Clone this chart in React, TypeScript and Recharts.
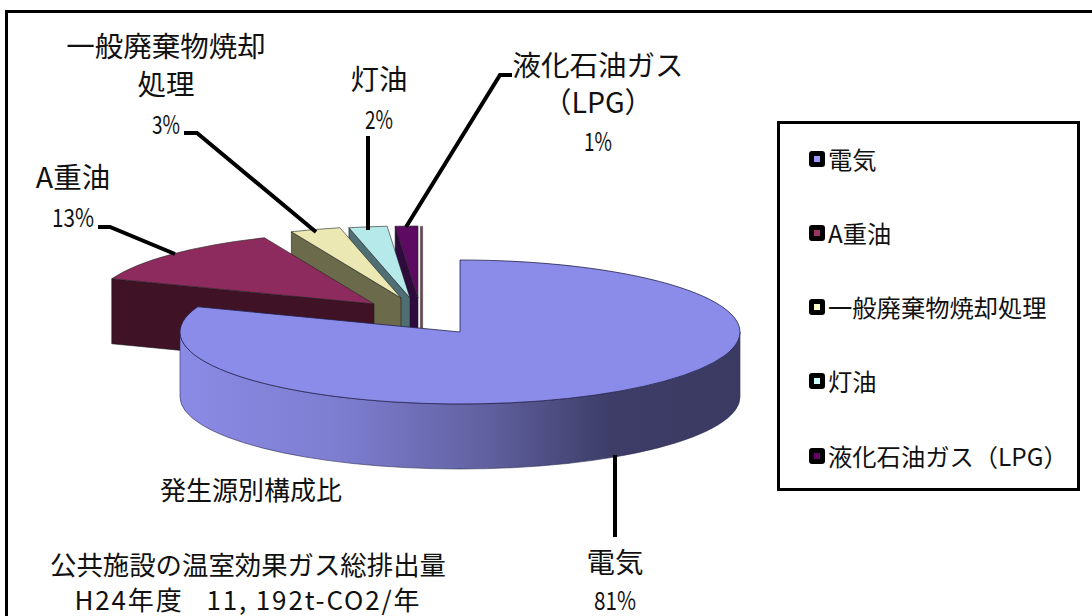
import { Legend, Pie, PieChart } from 'recharts'

const CATEGORIES = ['電気', 'A重油', '一般廃棄物焼却処理', '灯油', '液化石油ガス（LPG）']
const VALUES = [80.7, 12.9, 2.9, 2.2, 1.3]
const TOP_COLORS = ['#8B8BE9', '#8E2B5E', '#EBE8B4', '#B6EAEA', '#5C0A62']
const WALL_COLORS = ['#8B8BE9', '#3F1226', '#6B6B4B', '#4F6F75', '#2E0A3D']
const LEGEND_COLORS = ['#9999FF', '#993366', '#FFFFCC', '#CCFFFF', '#660066']

// how far each slice is pulled away from the pie centre (px)
const EXPLODE: Record<string, [number, number]> = {
  電気: [0, 0],
  A重油: [-86, -28],
  一般廃棄物焼却処理: [-59, -34],
  灯油: [-50, -34],
  '液化石油ガス（LPG）': [-42, -34],
}

const CX = 460
const CY = 332
const RADIUS = 280
const TILT = 72 / 280
const DEPTH = 65
const FONT = '"Noto Sans CJK JP", sans-serif'

// pie draws back to front, so the big slice has to come last
const pieData = CATEGORIES.map((name, i) => ({
  name,
  value: VALUES[i],
  fill: TOP_COLORS[i],
  wall: WALL_COLORS[i],
  legendColor: LEGEND_COLORS[i],
})).reverse()

const LABEL_LAYOUT: Record<
  string,
  { cx: number; lines: [string, number][]; pctY: number; leader: string }
> = {
  電気: {
    cx: 615,
    lines: [['電気', 573]],
    pctY: 610,
    leader: '615,455 615,537',
  },
  A重油: {
    cx: 73,
    lines: [['A重油', 188]],
    pctY: 227,
    leader: '98,227 110,227 175,254',
  },
  一般廃棄物焼却処理: {
    cx: 166,
    lines: [
      ['一般廃棄物焼却', 57],
      ['処理', 95],
    ],
    pctY: 134,
    leader: '184,133 197,133 316,232',
  },
  灯油: {
    cx: 379,
    lines: [['灯油', 90]],
    pctY: 129,
    leader: '368,136 368,230',
  },
  '液化石油ガス（LPG）': {
    cx: 598,
    lines: [
      ['液化石油ガス', 76],
      ['（LPG）', 113],
    ],
    pctY: 151,
    leader: '512,75 500,75 406,227',
  },
}

function renderLabel(props: any) {
  const layout = LABEL_LAYOUT[props.name]
  if (!layout) return null
  const pct = `${Math.round(props.percent * 100)}%`
  return (
    <g>
      <polyline points={layout.leader} fill="none" stroke="#000" strokeWidth={4} />
      {layout.lines.map(([line, y]) => (
        <text key={line} x={layout.cx} y={y} textAnchor="middle" fontSize={28.5} fontFamily={FONT} fill="#111">
          {line}
        </text>
      ))}
      <text
        x={layout.cx}
        y={layout.pctY}
        textAnchor="middle"
        fontSize={25}
        fontFamily={FONT}
        fill="#111"
        textLength={pct.length * 14}
        lengthAdjust="spacingAndGlyphs"
      >
        {pct}
      </text>
    </g>
  )
}

function Slice3D(props: any) {
  const { cx, cy, outerRadius, startAngle, endAngle, fill, name, wall } = props
  const [dx, dy] = EXPLODE[name]
  const rx = outerRadius
  const ry = outerRadius * TILT
  const ax = cx + dx
  const ay = cy + dy
  const pt = (deg: number) => {
    const r = (deg * Math.PI) / 180
    return [ax + rx * Math.cos(r), ay - ry * Math.sin(r)]
  }
  const [sx, sy] = pt(startAngle)
  const [ex, ey] = pt(endAngle)
  const large = endAngle - startAngle > 180 ? 1 : 0
  const top = `M${ax},${ay} L${sx},${sy} A${rx},${ry} 0 ${large} 0 ${ex},${ey} Z`

  if (name === CATEGORIES[0]) {
    const [lx, ly] = pt(180)
    const [rrx, rry] = pt(360)
    const front = `M${lx},${ly} A${rx},${ry} 0 0 0 ${rrx},${rry} L${rrx},${rry + DEPTH} A${rx},${ry} 0 0 1 ${lx},${ly + DEPTH} Z`
    return (
      <g>
        <defs>
          <linearGradient id="frontWall" gradientUnits="userSpaceOnUse" x1={lx} x2={rrx} y1={0} y2={0}>
            <stop offset="0" stopColor="#8B8BE6" />
            <stop offset="0.3" stopColor="#7C7CCF" />
            <stop offset="0.55" stopColor="#60609F" />
            <stop offset="0.77" stopColor="#3D3D68" />
            <stop offset="1" stopColor="#3A3A62" />
          </linearGradient>
        </defs>
        <path d={front} fill="url(#frontWall)" stroke="#2d2d55" strokeWidth={0.6} />
        <path d={top} fill={fill} stroke="#22224a" strokeWidth={0.8} />
      </g>
    )
  }

  const side = `M${ax},${ay} L${ex},${ey} L${ex},${ey + DEPTH} L${ax},${ay + DEPTH} Z`
  return (
    <g>
      {name === CATEGORIES[4] && (
        <rect x={sx + 2} y={sy} width={3} height={ay + DEPTH - sy} fill="#5d4a50" stroke="#cbbcc0" strokeWidth={0.5} />
      )}
      <path d={side} fill={wall} stroke="#1c1c1c" strokeWidth={0.6} />
      <path d={top} fill={fill} stroke="#222" strokeWidth={0.6} />
    </g>
  )
}

function LegendBox({ payload }: any) {
  const rows = [...(payload ?? [])].reverse()
  return (
    <div style={{ position: 'absolute', inset: 0 }}>
      {rows.map((entry: any, i: number) => (
        <div
          key={entry.value}
          style={{
            position: 'absolute',
            left: 29,
            top: 34.5 + i * 74.3 - 16,
            height: 32,
            display: 'flex',
            alignItems: 'center',
            whiteSpace: 'nowrap',
            fontFamily: FONT,
            fontSize: 24.3,
            lineHeight: '32px',
            color: '#111',
          }}
        >
          <span
            style={{
              boxSizing: 'border-box',
              width: 16,
              height: 16,
              marginRight: 3,
              background: entry.payload?.legendColor,
              border: '5px solid #000',
              borderRadius: 3,
            }}
          />
          {entry.value}
        </div>
      ))}
    </div>
  )
}

export default function App() {
  return (
    <div style={{ position: 'absolute', left: 0, top: 0, width: 1092, height: 616, overflow: 'hidden', background: '#fff' }}>
      <div style={{ position: 'absolute', left: 5, top: 10, width: 1087, height: 3, background: '#000' }} />
      <div style={{ position: 'absolute', left: 5, top: 10, width: 3, height: 606, background: '#000' }} />
      <PieChart width={1092} height={616} margin={{ top: 0, right: 0, bottom: 0, left: 0 }}>
        <Pie
          data={pieData}
          dataKey="value"
          nameKey="name"
          cx={CX}
          cy={CY}
          outerRadius={RADIUS}
          startAngle={90}
          endAngle={450}
          shape={Slice3D}
          inactiveShape={Slice3D}
          label={renderLabel}
          labelLine={false}
          isAnimationActive={false}
        />
        <Legend
          layout="vertical"
          align="center"
          verticalAlign="middle"
          itemSorter={null}
          content={<LegendBox />}
          wrapperStyle={{
            left: 777,
            top: 121,
            width: 303,
            height: 370,
            boxSizing: 'border-box',
            border: '3px solid #000',
            background: '#fff',
          }}
        />
        <text x={251} y={500} textAnchor="middle" fontSize={26} fontFamily={FONT} fill="#111">
          発生源別構成比
        </text>
        <text x={248} y={575} textAnchor="middle" fontSize={26.4} fontFamily={FONT} fill="#111">
          公共施設の温室効果ガス総排出量
        </text>
        <text
          x={247}
          y={610}
          textAnchor="middle"
          fontSize={26}
          fontFamily={FONT}
          fill="#111"
          textLength={345}
          lengthAdjust="spacing"
          style={{ whiteSpace: 'pre' }}
        >
          H24年度   11, 192t-CO2/年
        </text>
      </PieChart>
    </div>
  )
}
